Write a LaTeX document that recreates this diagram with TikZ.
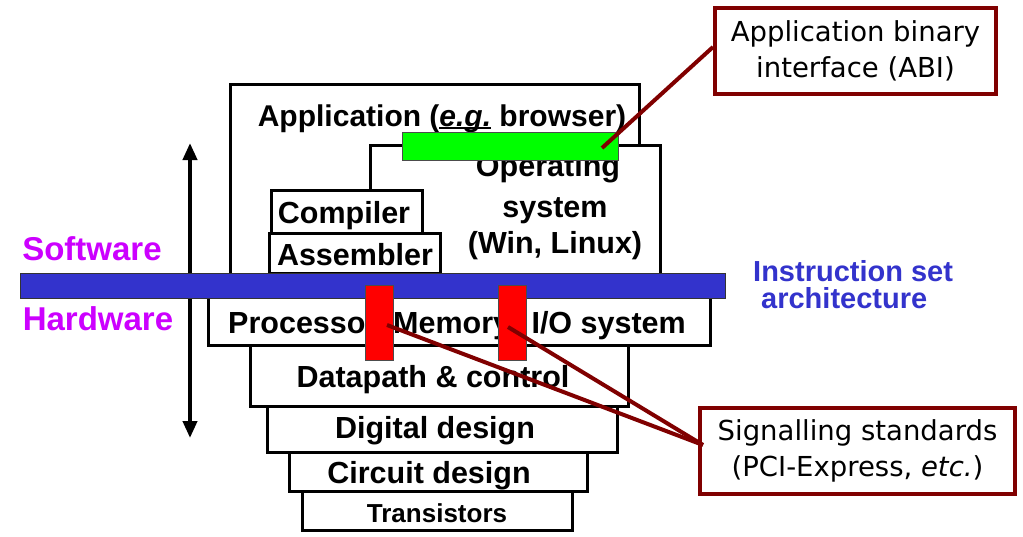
\documentclass[tikz,border=0pt]{standalone}
\usepackage{fontspec}
\setmainfont{Liberation Sans}
\newfontfamily\callfont{DejaVu Sans}
\usetikzlibrary{arrows.meta,calc}
\definecolor{darkred}{RGB}{128,0,0}
\definecolor{isablue}{RGB}{51,51,204}
\definecolor{swmag}{RGB}{204,0,255}
\newcommand\ulthick[1]{\setbox0\hbox{#1}\rlap{\rule[-3pt]{\wd0}{2pt}}\box0\relax}
\begin{document}
\begin{tikzpicture}[x=1pt,y=-1pt,
  layer/.style={draw=black,line width=3pt},
  lbl/.style={font=\fontsize{30.5}{36}\selectfont\bfseries,inner sep=0pt,anchor=base},
  sidelbl/.style={font=\fontsize{33}{38}\selectfont\bfseries,text=swmag,inner sep=0pt,anchor=base},
  isalbl/.style={font=\fontsize{29}{30}\selectfont\bfseries,text=isablue,inner sep=0pt,anchor=base west},
  callout/.style={draw=darkred,line width=4pt,fill=white,inner sep=0pt,font=\callfont\fontsize{27.5}{36}\selectfont,align=center},
  conn/.style={draw=darkred,line width=4pt},
  redbar/.style={draw=black!70,line width=0.8pt,fill=red,inner sep=0pt,minimum width=28pt,minimum height=75pt},
]
\useasboundingbox (0,0) rectangle (1023,536);
% software layers
\draw[layer] (230,273) -- (230,84) -- (639,84) -- (639,145);
\draw[layer] (370,190) -- (370,145) -- (660,145) -- (660,273);
\node[layer,inner sep=0pt,minimum width=151pt,minimum height=43pt] (comp) at (346.5,211.5) {};
\node[layer,inner sep=0pt,minimum width=171pt,minimum height=40pt] (asm) at (354.5,253) {};
\node[lbl,font=\fontsize{30}{36}\selectfont\bfseries] (apptxt) at (442,126) {Application (\ulthick{\textit{e.g.}} browser)};
\node[lbl] (os1) at (548,176) {Operating};
\node[lbl] (os2) at (555,217) {system};
\node[lbl] (os3) at (555,253) {(Win, Linux)};
\node[lbl] (comptxt) at (344,223) {Compiler};
\node[lbl] (asmtxt) at (355,265) {Assembler};
% hardware layers
\node[layer,inner sep=0pt,minimum width=502pt,minimum height=50pt] (proc) at (459,320) {};
\node[layer,inner sep=0pt,minimum width=378pt,minimum height=61pt] (dp) at (439,375.5) {};
\node[layer,inner sep=0pt,minimum width=350pt,minimum height=46pt] (dig) at (442,429) {};
\node[layer,inner sep=0pt,minimum width=298pt,minimum height=39pt] (circ) at (438,471.5) {};
\node[layer,inner sep=0pt,minimum width=270pt,minimum height=39pt] (tran) at (437,510.5) {};
\node[lbl,anchor=base west] (proctxt) at (228,333) {Processor};
\node[lbl,anchor=base west] (memtxt) at (393,333) {Memory};
\node[lbl,anchor=base east] (iotxt) at (686,333) {I/O system};
\node[lbl] (dptxt) at (433,387) {Datapath \& control};
\node[lbl] (digtxt) at (435,438) {Digital design};
\node[lbl] (circtxt) at (429,483) {Circuit design};
\node[lbl,font=\fontsize{26}{30}\selectfont\bfseries] (trantxt) at (437,522) {Transistors};
% arrow
\coordinate (atop) at (190,143);
\coordinate (abot) at (190,438);
\draw[line width=4pt,{Triangle[length=17pt,width=14pt]}-{Triangle[length=17pt,width=14pt]}] (atop) -- (abot);
% side labels
\node[sidelbl] (sw) at (92,260) {Software};
\node[sidelbl] (hw) at (98,330) {Hardware};
% ISA bar
\node[draw=black!80,line width=1pt,fill=isablue,inner sep=0pt,minimum width=705pt,minimum height=25pt] (isa) at (372.5,285.5) {};
\node[isalbl] (isa1) at (753,281) {Instruction set};
\node[isalbl] (isa2) at (761,308) {architecture};
% red signalling bars
\node[redbar] (rb1) at (379,322.5) {};
\node[redbar] (rb2) at (512,322.5) {};
% green ABI bar
\node[draw=black!70,line width=0.8pt,fill=green,inner sep=0pt,minimum width=216pt,minimum height=28pt] (abibar) at (510,146) {};
% callouts
\node[callout,minimum width=281pt,minimum height=86pt] (abi) at (855.5,51) {Application binary\\interface (ABI)};
\node[callout,minimum width=315pt,minimum height=86pt] (sig) at (857.5,451) {Signalling standards\\(PCI-Express, \textit{etc.})};
% connectors
\coordinate (abiend) at (602,148);
\coordinate (sigp) at (703,445);
\coordinate (rb1p) at (387,325);
\coordinate (rb2p) at (508,327);
\draw[conn] (abi.west |- 0,47) -- (abiend);
\draw[conn] (rb1p) -- (sigp);
\draw[conn] (rb2p) -- (sigp);
\end{tikzpicture}
\end{document}
